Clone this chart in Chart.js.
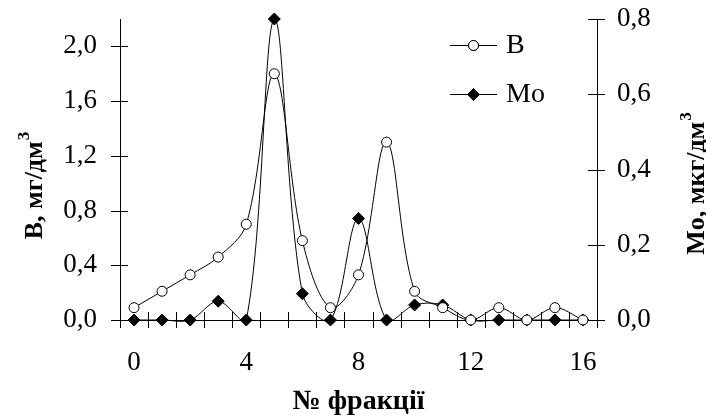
<!DOCTYPE html>
<html>
<head>
<meta charset="utf-8">
<script src="https://cdn.jsdelivr.net/npm/chart.js@4"></script>
<style>
  html, body { margin: 0; padding: 0; background: #fff; }
  #wrap { width: 706px; height: 420px; }
</style>
</head>
<body>
<div id="wrap"><canvas id="chart" width="706" height="420"></canvas></div>
<script>
// fraction numbers (x categories)
const fractions = ['0','1','2','3','4','5','6','7','8','9','10','11','12','13','14','15','16'];
// B, mg/dm3 (left axis)
const boronValues = [0.09, 0.21, 0.33, 0.46, 0.70, 1.80, 0.58, 0.09, 0.33, 1.30, 0.21, 0.09, 0.00, 0.09, 0.00, 0.09, 0.00];
// Mo, mkg/dm3 (right axis)
const moValues = [0.00, 0.00, 0.00, 0.05, 0.00, 0.80, 0.07, 0.00, 0.27, 0.00, 0.04, 0.04, 0.00, 0.00, 0.00, 0.00, 0.00];
const leftTicks = [0, 0.4, 0.8, 1.2, 1.6, 2.0];
const rightTicks = [0, 0.2, 0.4, 0.6, 0.8];

const FONT = '"Liberation Serif", "Times New Roman", serif';
const comma = v => v.toFixed(1).replace('.', ',');

// cross-shaped tick marks, legend and rotated titles with superscript
const decor = {
  id: 'decor',
  afterDraw(chart) {
    const c = chart.ctx;
    const x = chart.scales.x, yl = chart.scales.yB, yr = chart.scales.yMo;
    c.save();
    c.strokeStyle = '#000';
    c.lineWidth = 1;
    c.beginPath();
    const step = x.getPixelForValue(1) - x.getPixelForValue(0);
    for (let i = 0; i <= fractions.length; i++) {
      const px = Math.round(x.getPixelForValue(i) - step / 2) + 0.5;
      c.moveTo(px, yl.bottom - 8); c.lineTo(px, yl.bottom + 8);
    }
    leftTicks.forEach(v => {
      const py = Math.round(yl.getPixelForValue(v)) + 0.5;
      c.moveTo(yl.right - 9, py); c.lineTo(yl.right + 8, py);
    });
    rightTicks.forEach(v => {
      const py = Math.round(yr.getPixelForValue(v)) + 0.5;
      c.moveTo(yr.left - 9, py); c.lineTo(yr.left + 8, py);
    });
    c.stroke();

    // legend
    const items = [
      { ds: chart.data.datasets[0], y: 45 },
      { ds: chart.data.datasets[1], y: 94 }
    ];
    c.font = '28px ' + FONT;
    c.textBaseline = 'middle';
    c.fillStyle = '#000';
    items.forEach(it => {
      c.beginPath();
      c.moveTo(450, it.y + 0.5); c.lineTo(497, it.y + 0.5);
      c.stroke();
      Chart.helpers.drawPoint(c, {
        pointStyle: it.ds.pointStyle,
        radius: it.ds.pointRadius,
        borderWidth: 1
      }, 473.5, it.y + 0.5);
      c.fillStyle = it.ds.pointBackgroundColor;
      c.fill();
      c.stroke();
      c.fillStyle = '#000';
      c.fillText(it.ds.label, 506, it.y + 1);
    });

    // y titles
    const vtitle = (main, cx, cy) => {
      c.save();
      c.translate(cx, cy);
      c.rotate(-Math.PI / 2);
      c.font = 'bold 26px ' + FONT;
      const w1 = c.measureText(main).width;
      c.font = 'bold 17px ' + FONT;
      const w2 = c.measureText('3').width;
      const x0 = -(w1 + w2) / 2;
      c.textBaseline = 'alphabetic';
      c.fillStyle = '#000';
      c.font = 'bold 26px ' + FONT;
      c.fillText(main, x0, 0);
      c.font = 'bold 17px ' + FONT;
      c.fillText('3', x0 + w1 + 1, -13);
      c.restore();
    };
    vtitle('B, мг/дм', 42, 186);
    vtitle('Mo, мкг/дм', 704, 184);
    c.restore();
  }
};

new Chart(document.getElementById('chart'), {
  type: 'line',
  data: {
    labels: fractions,
    datasets: [{
      label: 'B',
      data: boronValues,
      yAxisID: 'yB',
      borderColor: '#000',
      borderWidth: 1,
      pointStyle: 'circle',
      pointRadius: 5,
      pointBackgroundColor: '#fff',
      pointBorderColor: '#000',
      pointBorderWidth: 1,
      tension: 0.35,
      capBezierPoints: false,
      clip: false
    }, {
      label: 'Mo',
      data: moValues,
      yAxisID: 'yMo',
      borderColor: '#000',
      borderWidth: 1,
      pointStyle: 'rectRot',
      pointRadius: 6,
      pointBackgroundColor: '#000',
      pointBorderColor: '#000',
      pointBorderWidth: 1,
      tension: 0.35,
      capBezierPoints: false,
      clip: false
    }]
  },
  options: {
    responsive: false,
    animation: false,
    layout: { padding: 0 },
    plugins: { legend: { display: false }, tooltip: { enabled: false } },
    scales: {
      x: {
        type: 'category',
        offset: true,
        grid: { display: false, drawTicks: false },
        border: { display: true, color: '#000', width: 1 },
        ticks: {
          color: '#000',
          font: { family: FONT, size: 27 },
          autoSkip: false,
          maxRotation: 0,
          padding: 27,
          callback: (v, i) => (i % 4 === 0 ? fractions[i] : '')
        },
        title: {
          display: true,
          text: '№ фракції',
          color: '#000',
          font: { family: FONT, size: 28, weight: 'bold' },
          padding: { top: 0, bottom: 1 }
        },
        afterFit: s => { s.height = 100; s.paddingLeft = 0; s.paddingRight = 0; }
      },
      yB: {
        position: 'left',
        min: 0,
        max: 2.2,
        grid: { display: false, drawTicks: false },
        border: { display: true, color: '#000', width: 1 },
        ticks: {
          color: '#000',
          padding: 23,
          font: { family: FONT, size: 27 },
          callback: v => comma(v)
        },
        afterBuildTicks: s => { s.ticks = leftTicks.map(v => ({ value: v })); },
        afterFit: s => { s.width = 120; s.paddingTop = 19; s.paddingBottom = 0; }
      },
      yMo: {
        position: 'right',
        min: 0,
        max: 0.8,
        grid: { display: false, drawTicks: false },
        border: { display: true, color: '#000', width: 1 },
        ticks: {
          color: '#000',
          padding: 20,
          font: { family: FONT, size: 27 },
          callback: v => comma(v)
        },
        afterBuildTicks: s => { s.ticks = rightTicks.map(v => ({ value: v })); },
        afterFit: s => { s.width = 109; s.paddingTop = 19; s.paddingBottom = 0; }
      }
    }
  },
  plugins: [decor]
});
</script>
</body>
</html>
